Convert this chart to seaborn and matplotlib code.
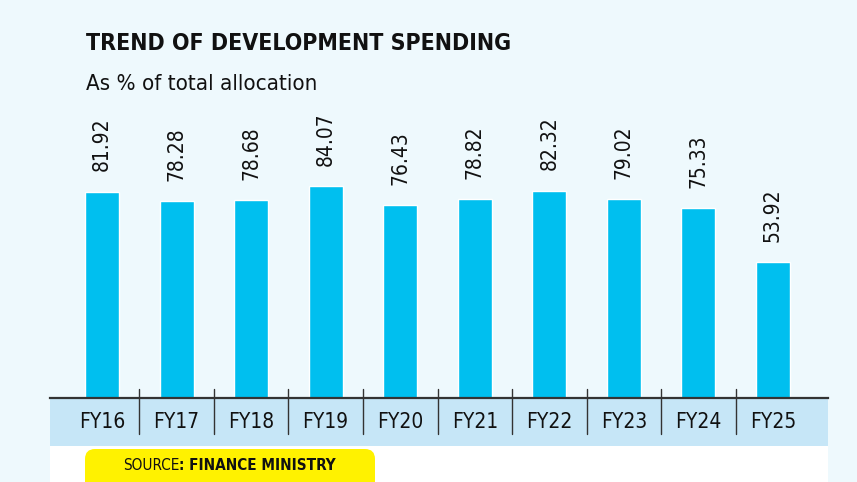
import matplotlib
matplotlib.use("Agg")
import matplotlib.pyplot as plt
from matplotlib.patches import Rectangle, FancyBboxPatch
from matplotlib.transforms import IdentityTransform
import seaborn as sns
import pandas as pd

# data
years = ["FY16", "FY17", "FY18", "FY19", "FY20", "FY21", "FY22", "FY23", "FY24", "FY25"]
share = [81.92, 78.28, 78.68, 84.07, 76.43, 78.82, 82.32, 79.02, 75.33, 53.92]

df = pd.DataFrame({"year": years, "share": share})

BG = "#eef9fd"
BAR = "#00bfef"
STRIP = "#c6e6f7"
W, H = 857, 482

sns.set_style("white")
plt.rcParams["font.family"] = ["DejaVu Sans"]
plt.rcParams["font.stretch"] = "condensed"

fig = plt.figure(figsize=(W / 100, H / 100), dpi=100)
fig.patch.set_facecolor(BG)


def fx(px):
    return px / W


def fy(py):
    return 1 - py / H


# strip under the axis, white footer and yellow source tag (pixel coords)
fig.add_artist(Rectangle((50, H - 446), 778, 48, transform=IdentityTransform(),
                         facecolor=STRIP, edgecolor="none", zorder=-3))
fig.add_artist(Rectangle((50, 0), 778, 36, transform=IdentityTransform(),
                         facecolor="white", edgecolor="none", zorder=-3))
fig.add_artist(FancyBboxPatch((85, -20), 290, H - 449 + 20, transform=IdentityTransform(),
                              boxstyle="round,pad=0,rounding_size=10",
                              facecolor="#fff200", edgecolor="none", zorder=-2))

ax = fig.add_axes([fx(50), fy(398), fx(778), 298 / H])
ax.set_facecolor("none")
sns.barplot(data=df, x="year", y="share", color=BAR, saturation=1, width=0.456, ax=ax)
ax.set_xlim(-0.7, 9.74)
ax.set_ylim(0, 298 / 2.52)
ax.set_xlabel("")
ax.set_ylabel("")
ax.set_yticks([])
ax.set_xticks([])
for s in ["top", "right", "left"]:
    ax.spines[s].set_visible(False)
ax.spines["bottom"].set_color("#333333")
ax.spines["bottom"].set_linewidth(1.6)

for i, (yr, v) in enumerate(zip(years, share)):
    ax.text(i, v + 8, f"{v:.2f}", rotation=90, ha="center", va="bottom", fontsize=15, color="#111111")
    fig.text(fx(102 + i * 74.56), fy(422), yr, ha="center", va="center", fontsize=15, color="#111111")
    if i < len(years) - 1:
        ax.plot([i + 0.5, i + 0.5], [0.03, -0.12], transform=ax.get_xaxis_transform(),
                color="#333333", lw=1, clip_on=False)

fig.text(fx(86), fy(44), "TREND OF DEVELOPMENT SPENDING", ha="left", va="center",
         fontsize=16.6, fontweight="bold", color="#111111")
fig.text(fx(86), fy(84), "As % of total allocation", ha="left", va="center",
         fontsize=16, color="#111111")
t = fig.text(fx(123), fy(466), "SOURCE", ha="left", va="center", fontsize=11, color="#111111")
fig.canvas.draw()
bb = t.get_window_extent()
fig.text(bb.x1 / W, fy(466), ": FINANCE MINISTRY", ha="left", va="center",
         fontsize=11, fontweight="bold", color="#111111")

fig.savefig("out.png", dpi=100, facecolor=BG)
